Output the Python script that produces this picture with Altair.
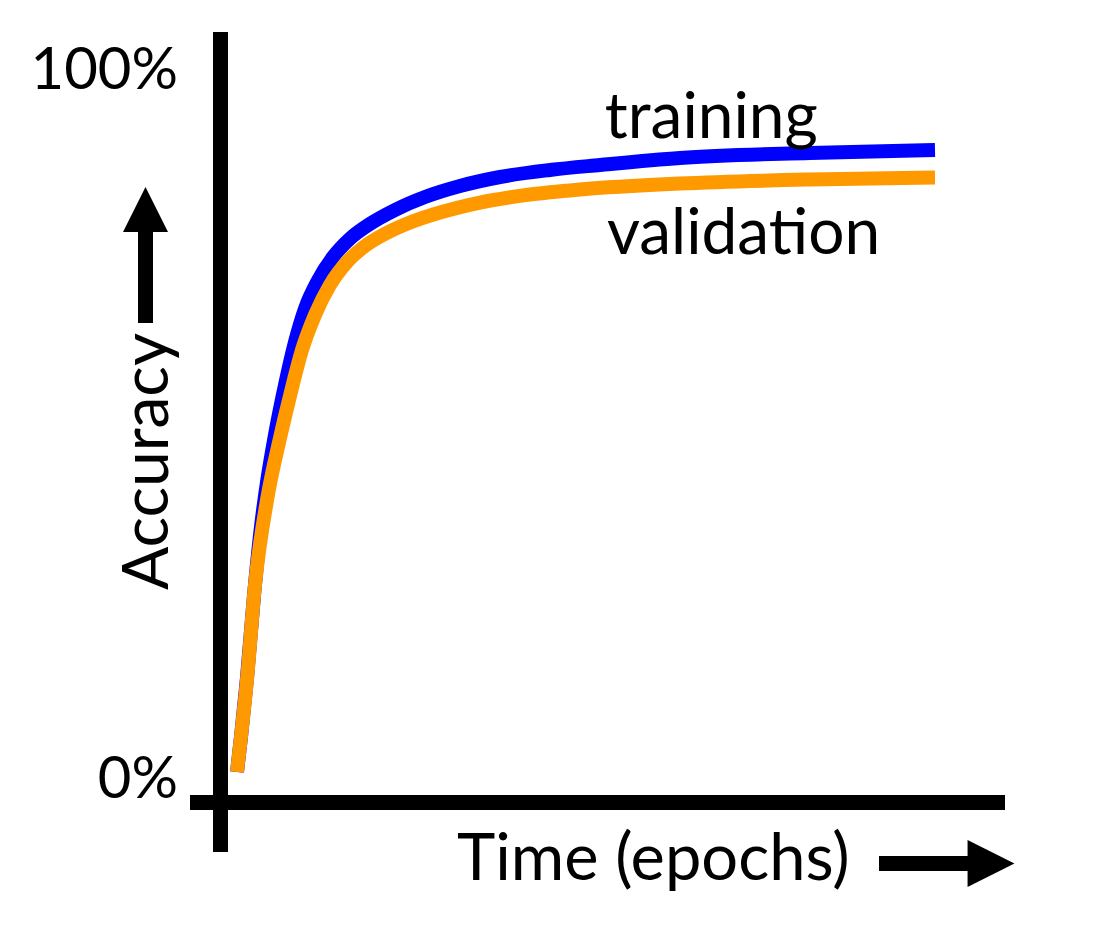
import altair as alt
import pandas as pd

# Series (epochs in % of the run, accuracy in %)
epochs_train = [0, 0.57, 1.43, 2.44, 3.30, 4.30, 5.44, 6.88, 8.31, 9.74, 11.60, 13.75, 16.19,
                19.05, 22.64, 26.93, 31.95, 37.68, 44.84, 52.01, 63.47, 82.09, 100]
acc_train = [1.27, 6.21, 14.53, 26.23, 34.70, 42.17, 48.80, 55.85, 61.90, 66.60, 70.60, 73.90, 76.50,
             78.58, 80.55, 82.37, 83.92, 85.19, 86.18, 86.88, 87.87, 88.58, 89.00]

epochs_val = [0, 0.57, 1.43, 2.58, 4.30, 6.16, 7.45, 9.31, 11.17, 13.32, 15.76, 18.34, 21.20,
              24.79, 29.08, 34.81, 41.98, 49.14, 63.47, 82.09, 100]
acc_val = [1.27, 6.21, 14.25, 27.64, 39.63, 48.38, 53.74, 60.79, 65.73, 69.96, 73.20, 75.46, 77.17,
           78.77, 80.18, 81.59, 82.72, 83.43, 84.27, 84.84, 85.12]

series_names = ["training", "validation"]
series_colors = ["#0000FF", "#FF9900"]
label_x = [52.7, 53.0]
label_y = [90.7, 74.3]

tick_values = [0, 100]
tick_labels = ["0%", "100%"]

FONT = "Lato"

train_df = pd.DataFrame({"epoch": epochs_train, "acc": acc_train, "series": "training"})
val_df = pd.DataFrame({"epoch": epochs_val, "acc": acc_val, "series": "validation"})
lab_df = pd.DataFrame({"epoch": label_x, "acc": label_y, "series": series_names})
tick_df = pd.DataFrame({"acc": tick_values, "label": tick_labels})

xs = alt.Scale(domain=[0, 100], range=[229, 927])
ys = alt.Scale(domain=[0, 100], range=[773, 64])
cs = alt.Scale(domain=series_names, range=series_colors)

X = alt.X("epoch:Q", scale=xs, axis=None)
Y = alt.Y("acc:Q", scale=ys, axis=None)


def curve(df):
    return alt.Chart(df).mark_line(
        strokeWidth=14, strokeCap="butt", interpolate="monotone"
    ).encode(x=X, y=Y, color=alt.Color("series:N", scale=cs, legend=None))


train_line = curve(train_df)
val_line = curve(val_df)

labels = alt.Chart(lab_df).mark_text(
    font=FONT, fontSize=64, align="left", baseline="alphabetic", color="black"
).encode(x=X, y=Y, text="series:N")

ticks = alt.Chart(tick_df).mark_text(
    font=FONT, fontSize=58, align="right", baseline="middle", color="black"
).encode(x=alt.value(170), y=Y, text="label:N")

one = pd.DataFrame({"k": [0]})

y_axis_line = alt.Chart(one).mark_rule(color="black", strokeWidth=15, strokeCap="butt").encode(
    x=alt.value(212.5), y=alt.value(24), y2=alt.value(844)
)
x_axis_line = alt.Chart(one).mark_rule(color="black", strokeWidth=15, strokeCap="butt").encode(
    y=alt.value(794.5), x=alt.value(182), x2=alt.value(997)
)

up_shaft = alt.Chart(one).mark_rule(color="black", strokeWidth=15, strokeCap="butt").encode(
    x=alt.value(137.5), y=alt.value(222), y2=alt.value(315)
)
up_head = alt.Chart(one).mark_point(
    shape="M0,-1L1,1L-1,1Z", filled=True, opacity=1, color="black", size=2025, strokeWidth=0
).encode(x=alt.value(137.5), y=alt.value(201.5))

right_shaft = alt.Chart(one).mark_rule(color="black", strokeWidth=15, strokeCap="butt").encode(
    y=alt.value(855.5), x=alt.value(871), x2=alt.value(962)
)
right_head = alt.Chart(one).mark_point(
    shape="M-1,-1L1,0L-1,1Z", filled=True, opacity=1, color="black", size=2200, strokeWidth=0
).encode(x=alt.value(983), y=alt.value(855.5))

y_title = alt.Chart(one).mark_text(
    text="Accuracy", font=FONT, fontSize=64, angle=270, align="center",
    baseline="alphabetic", color="black"
).encode(x=alt.value(160), y=alt.value(453.5))

x_title = alt.Chart(one).mark_text(
    text="Time (epochs)", font=FONT, fontSize=65, align="left",
    baseline="alphabetic", color="black"
).encode(x=alt.value(449), y=alt.value(872))

chart = alt.layer(
    train_line, val_line, labels, ticks,
    y_axis_line, x_axis_line, up_shaft, up_head, right_shaft, right_head,
    y_title, x_title,
).properties(
    width=1096, height=925, padding=0, background="white",
    autosize=alt.AutoSizeParams(type="none")
).configure_view(stroke=None)

chart.save("out.html", embed_options={"renderer": "svg", "actions": False})
